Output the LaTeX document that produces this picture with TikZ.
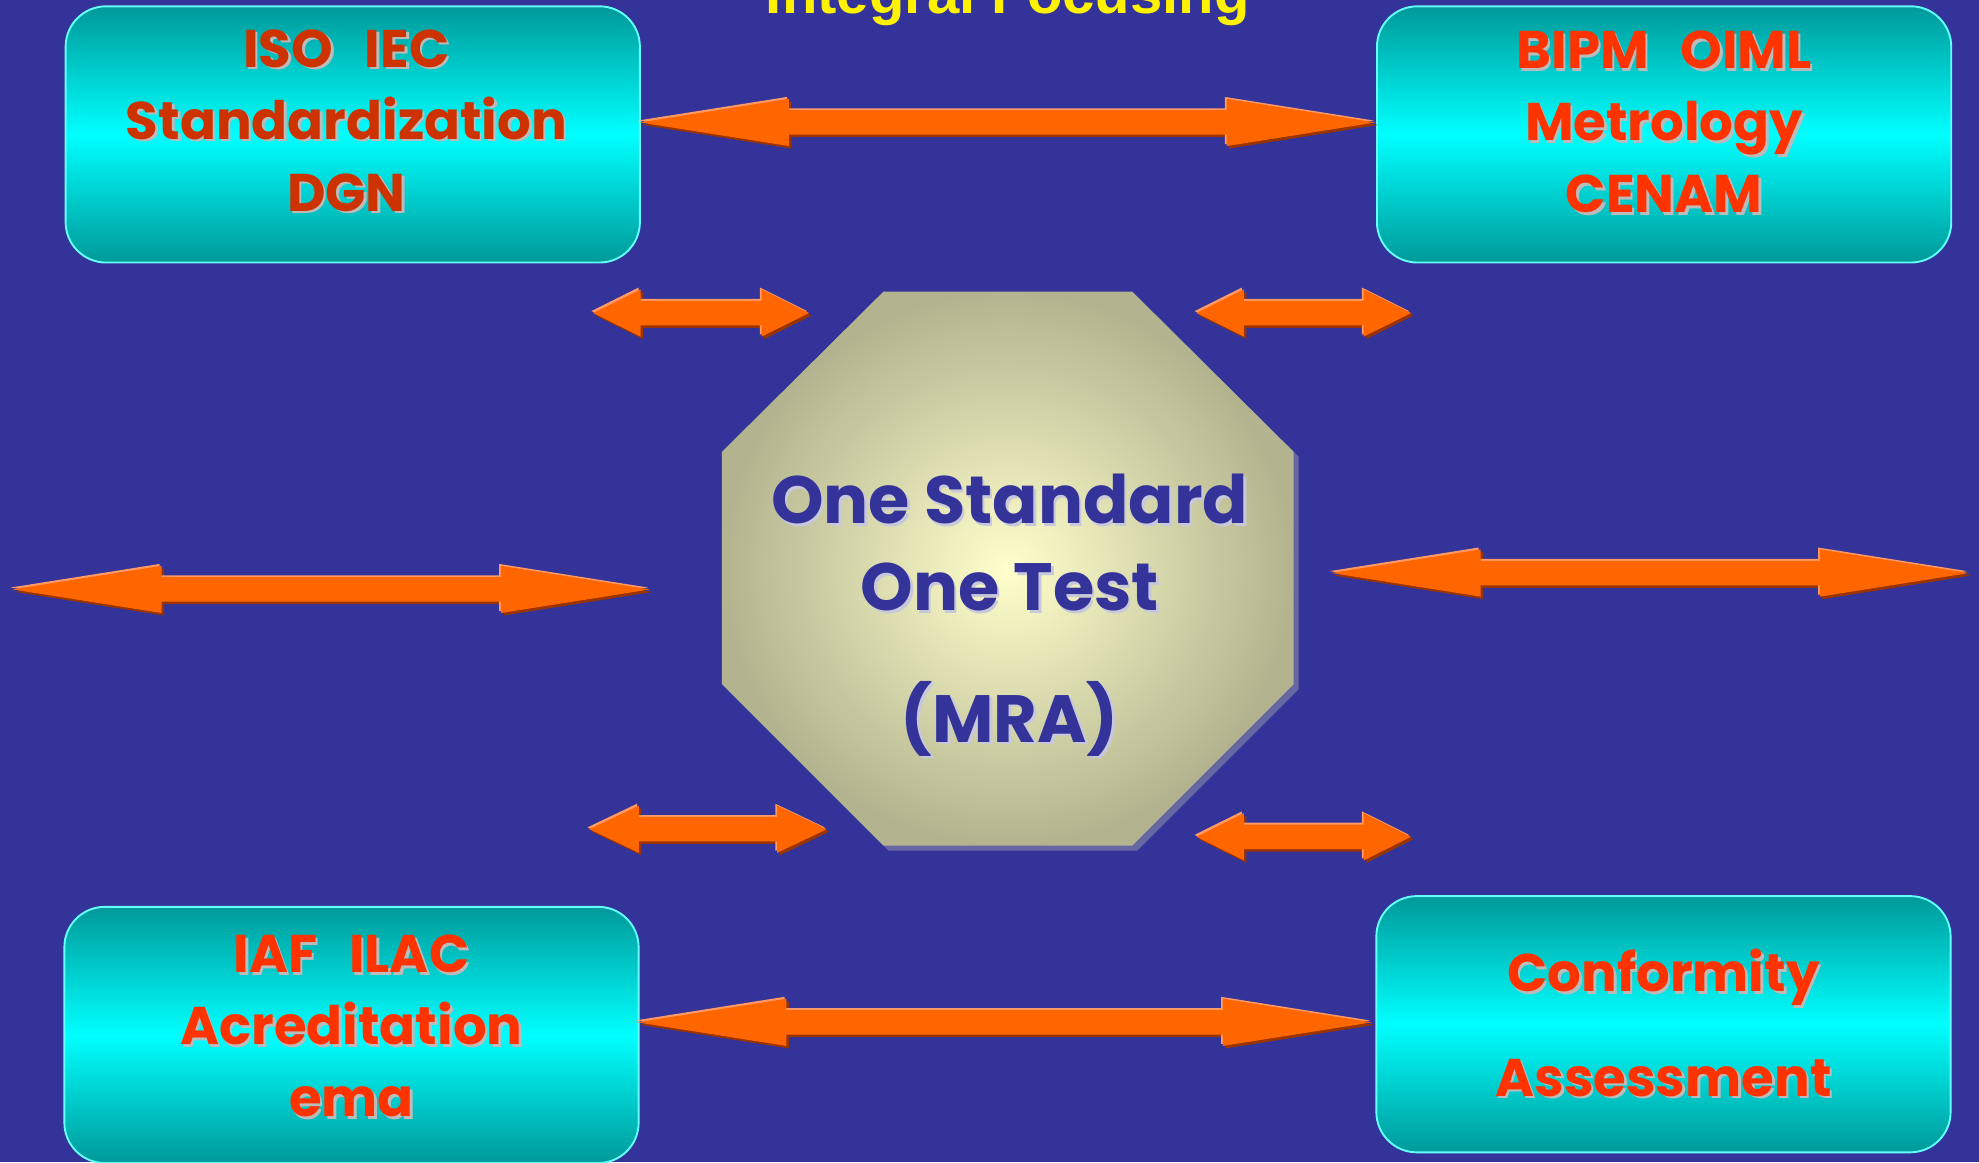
\documentclass[tikz,border=0pt]{standalone}
\usepackage{fontspec}
\setmainfont{Poppins}
\newfontfamily\titlefont{Liberation Sans}
\usetikzlibrary{shapes.arrows,shadows,positioning}

\definecolor{slideblue}{HTML}{333399}
\definecolor{boxteal}{HTML}{009999}
\definecolor{boxcyan}{HTML}{00FFFF}
\definecolor{boxrim}{HTML}{66FFFF}
\definecolor{arroworange}{HTML}{FF6600}
\definecolor{arrowlight}{HTML}{FF9966}
\definecolor{arrowdark}{HTML}{993300}
\definecolor{coreedge}{HTML}{B3B38F}
\definecolor{corecenter}{HTML}{FFFFCC}
\definecolor{coreshadow}{HTML}{6666A3}
\definecolor{coreshade}{HTML}{C8C8DC}
\definecolor{darkred}{HTML}{CC3300}
\definecolor{brightred}{HTML}{FF3300}
\definecolor{textshade}{HTML}{BBBBBB}

\newcommand{\shadowed}[2]{\makebox[0pt][l]{\kern2pt\raisebox{-2pt}{\textcolor{#1}{#2}}}#2}
\newcommand{\gap}{\hspace{0.6em}}

\begin{document}
\begin{tikzpicture}[x=1pt,y=-1pt,
  info box/.style={rectangle,rounded corners=32pt,minimum width=455pt,
  minimum height=203pt,top color=boxteal,bottom color=boxteal,
  middle color=boxcyan,draw=boxrim,line width=1.5pt},
  box text/.style={align=center,font=\fontsize{42}{57}\selectfont\bfseries},
  link arrow/.style={double arrow,fill=arroworange,inner xsep=0pt,
  inner ysep=9.5pt,double arrow head extend=9pt,
  general shadow={fill=arrowdark,opacity=1,shadow xshift=2pt,shadow yshift=-2pt},
  general shadow={fill=arrowlight,opacity=1,shadow xshift=-1.5pt,shadow yshift=1.5pt}},
  long arrow/.style={link arrow,double arrow tip angle=18},
  short arrow/.style={link arrow,double arrow tip angle=53}]

  \fill[slideblue] (0,0) rectangle (1568,921);
  \useasboundingbox (0,0) rectangle (1568,921);

  \node[anchor=base,text=yellow,font=\titlefont\fontsize{46}{50}\selectfont\bfseries]
    (T) at (798.5,11) {Integral Focusing};

  %four partners round the core
  \node[info box] (ISO) at (279.5,106.5) {};
  \node[info box] (BIPM) at (1318.5,106.5) {};
  \node[info box] (IAF) at (278.5,820) {};
  \node[info box] (CA) at (1318,811.5) {};

  \node[box text,text=darkred] (ISOT) at ([xshift=-5pt,yshift=10pt]ISO.center)
    {\shadowed{textshade}{ISO\gap IEC}\\\shadowed{textshade}{Standardization}\\\shadowed{textshade}{DGN}};
  \node[box text,text=brightred] (BIPMT) at ([yshift=9pt]BIPM.center)
    {\shadowed{textshade}{BIPM\gap OIML}\\\shadowed{textshade}{Metrology}\\\shadowed{textshade}{CENAM}};
  \node[box text,text=brightred] (IAFT) at ([yshift=6pt]IAF.center)
    {\shadowed{textshade}{IAF\gap ILAC}\\\shadowed{textshade}{Acreditation}\\\shadowed{textshade}{ema}};
  \node[box text,text=brightred] (CAT) at (CA.center)
    {\shadowed{textshade}{Conformity}\\[26pt]\shadowed{textshade}{Assessment}};

  %the core octagon
  \coordinate (MRA) at (798.5,450.5);
  \shade[inner color=corecenter,outer color=coreedge,
    general shadow={fill=coreshadow,opacity=1,shadow xshift=4pt,shadow yshift=-4pt}]
    (700,231) -- (897,231) -- (1025,358) -- (1025,542) -- (897,670)
    -- (700,670) -- (572,542) -- (572,358) -- cycle;
  \node[align=center,text=slideblue,font=\fontsize{53}{69}\selectfont\bfseries]
    (MRAT) at ([xshift=1.5pt,yshift=-38pt]MRA)
    {\shadowed{coreshade}{One Standard}\\\shadowed{coreshade}{One Test}\\[35pt]\shadowed{coreshade}{(MRA)}};

  %long links
  \node[long arrow,minimum height=583pt] (A1) at (798.5,97) {};
  \node[long arrow,minimum height=582pt] (A2) at (796,810) {};
  \node[long arrow,minimum height=505pt] (A3) at (262.5,467) {};
  \node[long arrow,minimum height=505pt] (A4) at (1307.5,454) {};

  %short links
  \node[short arrow,minimum height=171pt] (S1) at (555.5,248) {};
  \node[short arrow,minimum height=170pt] (S2) at (1033,248) {};
  \node[short arrow,minimum height=188pt,double arrow tip angle=51] (S3) at (561,657) {};
  \node[short arrow,minimum height=170pt] (S4) at (1033,663) {};

\end{tikzpicture}
\end{document}
